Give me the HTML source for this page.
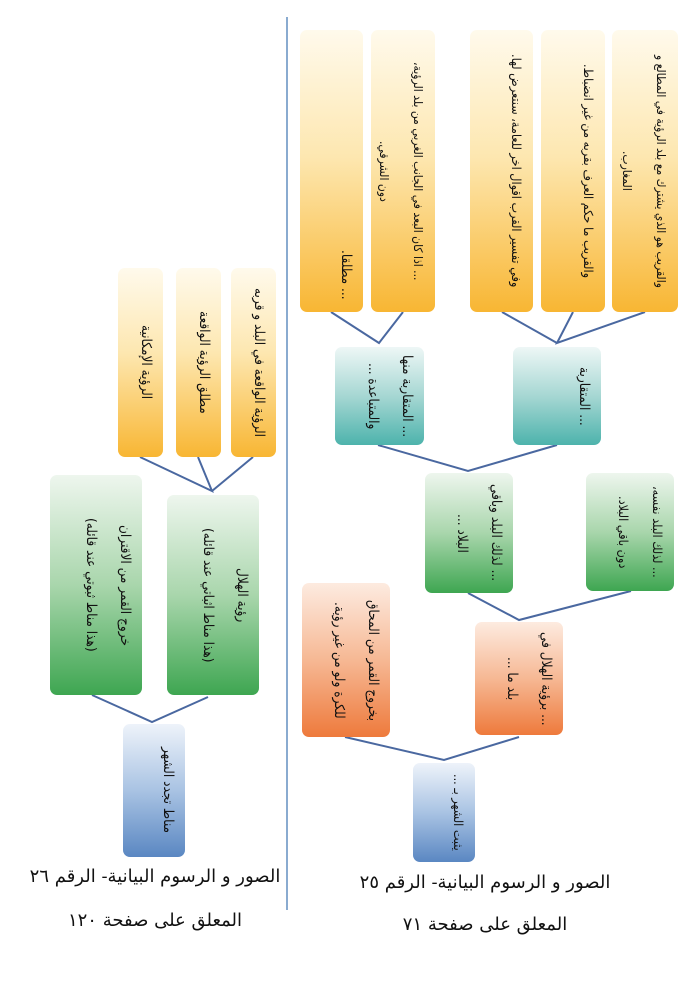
<!DOCTYPE html>
<html><head><meta charset="utf-8">
<style>
html,body{margin:0;padding:0;background:#fff;}
body{width:700px;height:988px;position:relative;overflow:hidden;font-family:"DejaVu Sans Condensed","DejaVu Sans",sans-serif;}
.b{position:absolute;border-radius:7px;box-sizing:border-box;writing-mode:vertical-rl;direction:rtl;font-size:13.5px;line-height:34px;color:#111;padding:4px 0;overflow:hidden;text-align:center;white-space:nowrap;display:flex;justify-content:center;}
.o{background:linear-gradient(#fffaec,#fde7b0 45%,#f8b633);}
.t{background:linear-gradient(#eef7f6,#a6d7d3 50%,#4db3ac);}
.g{background:linear-gradient(#eef6ee,#a9d6ac 50%,#3ea651);}
.r{background:linear-gradient(#fdebe0,#f6b894 50%,#ee7a3c);}
.bl{background:linear-gradient(#eef3fa,#a9c3e3 50%,#5a87c2);}
.cap{position:absolute;font-family:"DejaVu Serif","DejaVu Sans",serif;font-size:18px;direction:rtl;text-align:center;color:#111;white-space:nowrap;}
</style></head><body>
<svg width="700" height="988" style="position:absolute;left:0;top:0">
<g stroke="#4a68a0" stroke-width="2" fill="none">
<line x1="287" y1="17" x2="287" y2="910" stroke="#8aabd0"/>
<polyline points="645,312 557,343 573,312"/>
<polyline points="502,312 557,343"/>
<polyline points="331,312 379,343 403,312"/>
<polyline points="378,445 468,471 557,445"/>
<polyline points="468,593 519,620 631,591"/>
<polyline points="345,737 444,760 519,737"/>
<polyline points="140,457 212,491 198,457"/>
<polyline points="253,457 212,491"/>
<polyline points="92,695 152,722 208,697"/>
</g></svg>

<div class="b o" style="left:612px;top:30px;width:66px;height:282px;font-size:12px">والقريب هو الذي يشترك مع بلد الرؤية في المطالع و<br>المغارب.</div>
<div class="b o" style="left:541px;top:30px;width:64px;height:282px;font-size:12.5px">والقريب ما حكم العرف بقربه من غير انضباط.</div>
<div class="b o" style="left:470px;top:30px;width:63px;height:282px;font-size:12.5px">وفي تفسير القرب اقوال اخر للعامة، سنتعرض لها.</div>
<div class="b o" style="left:371px;top:30px;width:64px;height:282px;font-size:12px">... اذا كان البعد في الجانب الغربي من بلد الرؤية،<br>دون الشرقي.</div>
<div class="b o" style="left:300px;top:30px;width:63px;height:282px;justify-content:flex-start;padding-bottom:12px">... مطلقا.</div>

<div class="b t" style="left:335px;top:347px;width:89px;height:98px">... المتقاربة منها<br>والمتباعدة ...</div>
<div class="b t" style="left:513px;top:347px;width:88px;height:98px">... المتقاربة</div>

<div class="b g" style="left:425px;top:473px;width:88px;height:120px">... لذلك البلد وباقي<br>البلاد ...</div>
<div class="b g" style="left:586px;top:473px;width:88px;height:118px;font-size:12.5px">... لذلك البلد نفسه،<br>دون باقي البلاد.</div>

<div class="b r" style="left:475px;top:622px;width:88px;height:113px">... برؤية الهلال في<br>بلد ما ...</div>
<div class="b r" style="left:302px;top:583px;width:88px;height:154px">بخروج القمر من المحاق<br>للكرة ولو من غير رؤية.</div>

<div class="b bl" style="left:413px;top:763px;width:62px;height:99px;font-size:12.5px">يثبت الشهر بـ ...</div>

<div class="cap" style="left:330px;top:872px;width:310px">الصور و الرسوم البيانية- الرقم ٢٥</div>
<div class="cap" style="left:330px;top:914px;width:310px">المعلق على صفحة ٧١</div>

<div class="b o" style="left:231px;top:268px;width:45px;height:189px">الرؤية الواقعة في البلد و قربه</div>
<div class="b o" style="left:176px;top:268px;width:45px;height:189px">مطلق الرؤية الواقعة</div>
<div class="b o" style="left:118px;top:268px;width:45px;height:189px">الرؤية الإمكانية</div>

<div class="b g" style="left:167px;top:495px;width:92px;height:200px">رؤية الهلال<br>(هذا مناط اثباتي عند قائله)</div>
<div class="b g" style="left:50px;top:475px;width:92px;height:220px">خروج القمر من الاقتران<br>(هذا مناط ثبوتي عند قائله)</div>

<div class="b bl" style="left:123px;top:724px;width:62px;height:133px">مناط تجدد الشهر</div>

<div class="cap" style="left:10px;top:866px;width:290px">الصور و الرسوم البيانية- الرقم ٢٦</div>
<div class="cap" style="left:10px;top:910px;width:290px">المعلق على صفحة ١٢٠</div>
</body></html>
